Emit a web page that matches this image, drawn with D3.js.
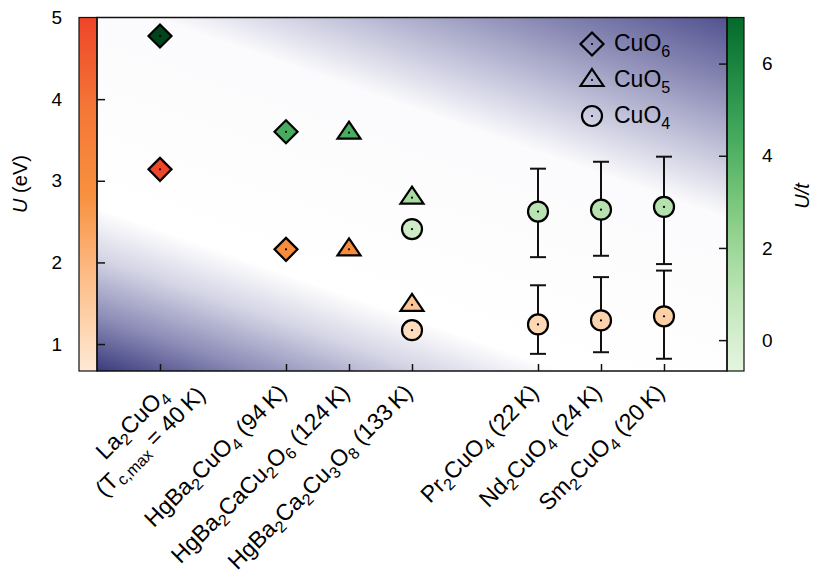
<!DOCTYPE html>
<html lang="en">
<head>
<meta charset="utf-8">
<title>U in cuprates</title>
<script src="https://d3js.org/d3.v7.min.js"></script>
<style>
body{margin:0;background:#fff;font-family:"Liberation Sans",Arial,Helvetica,sans-serif;}
</style>
</head>
<body>
<div id="chart"></div>
<script>
// compounds along the x axis, their slot on the axis and Tc (K)
var compounds = ["La2CuO4","HgBa2CuO4","HgBa2CaCu2O6","HgBa2Ca2Cu3O8","Pr2CuO4","Nd2CuO4","Sm2CuO4"]
var positions = [0,2,3,4,6,7,8]
var tcValues = [40,94,124,133,22,24,20]

// one entry per marker pair (U in eV on the left, U/t on the right)
var pointCompound = [0,1,2,3,3,4,5,6]
var pointShape = ["CuO6","CuO6","CuO5","CuO5","CuO4","CuO4","CuO4","CuO4"]
var uValues  = [3.14,2.16,2.16,1.48,1.17,1.24,1.29,1.34]
var uLow     = [null,null,null,null,null,0.88,0.90,0.82]
var uHigh    = [null,null,null,null,null,1.72,1.82,1.90]
var utValues = [6.60,4.52,4.50,3.09,2.41,2.79,2.83,2.89]
var utLow    = [null,null,null,null,null,1.80,1.83,1.65]
var utHigh   = [null,null,null,null,null,3.72,3.87,3.98]

var uTicks = [1,2,3,4,5]
var utTicks = [0,2,4,6]
var legendLabels = ["CuO6","CuO5","CuO4"]

var W = 817, H = 585
var plotL = 97, plotR = 727, plotT = 17.5, plotB = 371

var svg = d3.select("#chart").append("svg").attr("width",W).attr("height",H)
var defs = svg.append("defs")

var x = d3.scaleLinear().domain([-1,9]).range([plotL,plotR])
var yU = d3.scaleLinear().domain([0.67,5]).range([plotB,plotT])
var yUt = d3.scaleLinear().domain([-0.67,7.0]).range([plotB,plotT])

var orangeRamp = d3.piecewise(d3.interpolateRgb, ["#fee9d4","#fdc08c","#f8903f","#f47636","#ef4529"])
var uColor = d3.scaleSequential(orangeRamp).domain([1.0,3.14])
var utColor = d3.scaleSequential(d3.interpolateGreens).domain([1.2,6.6])

// background: white diagonal band fading to navy in two corners
var slope = 0.35
var fMin = -slope*(plotR-plotL), fMax = plotB-plotT, span = fMax-fMin
var k = span/(1+slope*slope)
var bg = defs.append("linearGradient").attr("id","bg").attr("gradientUnits","userSpaceOnUse")
    .attr("x1",plotR).attr("y1",plotT).attr("x2",plotR-slope*k).attr("y2",plotT+k)
var bgStops = [[-220.5,"#525290"],[-150,"#8a8ab5"],[-80,"#c7c7dd"],[-20,"#fbfbfd"],[190,"#ffffff"],[240,"#d4d4e5"],[300,"#8a8ab6"],[353.5,"#3a3a7c"]]
bgStops.forEach(function(s){
    bg.append("stop").attr("offset",(s[0]-fMin)/span).attr("stop-color",s[1])
})

function barGradient(id, ramp){
    var g = defs.append("linearGradient").attr("id",id).attr("x1",0).attr("y1",1).attr("x2",0).attr("y2",0)
    d3.range(0,1.0001,0.05).forEach(function(t){
        g.append("stop").attr("offset",t).attr("stop-color",ramp(t))
    })
}
barGradient("gOrange", orangeRamp)
barGradient("gGreen", function(t){ return d3.interpolateGreens(0.12+0.76*t) })

svg.append("rect").attr("x",plotL).attr("y",plotT).attr("width",plotR-plotL).attr("height",plotB-plotT)
    .attr("fill","url(#bg)")

// colour bars
svg.append("rect").attr("x",79).attr("y",plotT).attr("width",plotL-79).attr("height",plotB-plotT)
    .attr("fill","url(#gOrange)").attr("stroke","#111").attr("stroke-width",1.2)
svg.append("rect").attr("x",plotR).attr("y",plotT).attr("width",744-plotR).attr("height",plotB-plotT)
    .attr("fill","url(#gGreen)").attr("stroke","#111").attr("stroke-width",1.2)

// error bars
var capW = 8
function errorBar(g, cx, y0, y1){
    g.append("line").attr("x1",cx).attr("x2",cx).attr("y1",y0).attr("y2",y1)
    g.append("line").attr("x1",cx-capW).attr("x2",cx+capW).attr("y1",y0).attr("y2",y0)
    g.append("line").attr("x1",cx-capW).attr("x2",cx+capW).attr("y1",y1).attr("y2",y1)
}
var eb = svg.append("g").attr("stroke","#111").attr("stroke-width",2)
pointCompound.forEach(function(c,i){
    var cx = x(positions[c])
    if (uLow[i] != null) errorBar(eb, cx, yU(uLow[i]), yU(uHigh[i]))
    if (utLow[i] != null) errorBar(eb, cx, yUt(utLow[i]), yUt(utHigh[i]))
})

// markers
function shapePath(shape){
    if (shape == "CuO6") return "M0,-11.5L11.5,0L0,11.5L-11.5,0Z"
    if (shape == "CuO5") return "M0,-11L11.5,6L-11.5,6Z"
    return "M10,0A10,10 0 1,1 -10,0A10,10 0 1,1 10,0Z"
}
function marker(g, shape, cx, cy, fill){
    var m = g.append("g").attr("transform","translate("+cx+","+cy+")")
    m.append("path").attr("d",shapePath(shape)).attr("fill",fill)
        .attr("stroke","#000").attr("stroke-width",2.2).attr("stroke-linejoin","miter")
    m.append("circle").attr("r",1.1).attr("fill","#000")
}
var mk = svg.append("g")
pointCompound.forEach(function(c,i){
    var cx = x(positions[c])
    marker(mk, pointShape[i], cx, yUt(utValues[i]), utColor(utValues[i]))
    marker(mk, pointShape[i], cx, yU(uValues[i]), uColor(uValues[i]))
})

// frame
svg.append("rect").attr("x",plotL).attr("y",plotT).attr("width",plotR-plotL).attr("height",plotB-plotT)
    .attr("fill","none").attr("stroke","#111").attr("stroke-width",1.5)

// axes
function styleAxis(g){
    g.select(".domain").remove()
    g.selectAll("line").attr("stroke","#111").attr("stroke-width",1.5)
    g.selectAll("text").attr("font-size",19).attr("fill","#000")
        .attr("font-family","'Liberation Sans',Arial,Helvetica,sans-serif")
}
svg.append("g").attr("transform","translate(79,0)")
    .call(d3.axisLeft(yU).tickValues(uTicks).tickSize(0).tickPadding(17).tickFormat(d3.format("d")))
    .call(styleAxis)
svg.append("g").attr("transform","translate("+plotL+",0)")
    .call(d3.axisRight(yU).tickValues(uTicks.slice(0,4)).tickSize(8).tickFormat(""))
    .call(styleAxis)
svg.append("g").attr("transform","translate(744,0)")
    .call(d3.axisRight(yUt).tickValues(utTicks).tickSize(0).tickPadding(18).tickFormat(d3.format("d")))
    .call(styleAxis)
svg.append("g").attr("transform","translate("+plotR+",0)")
    .call(d3.axisLeft(yUt).tickValues(utTicks).tickSize(8).tickFormat(""))
    .call(styleAxis)
svg.append("g").attr("transform","translate(0,"+plotB+")")
    .call(d3.axisTop(x).tickValues(positions).tickSize(7).tickFormat(""))
    .call(styleAxis)

// axis titles
var tl = svg.append("text").attr("transform","translate(27,184) rotate(-90)")
    .attr("text-anchor","middle").attr("font-size",20)
tl.append("tspan").attr("font-style","italic").text("U")
tl.append("tspan").text(" (eV)")
var tr = svg.append("text").attr("transform","translate(809,196) rotate(-90)")
    .attr("text-anchor","middle").attr("font-size",20).attr("font-style","italic")
tr.text("U/t")

// chemical formula with digit subscripts, returns whether still shifted down
function addFormula(t, str, shift){
    var parts = str.match(/[A-Za-z]+|\d+/g)
    var down = false
    parts.forEach(function(p){
        var sub = /\d/.test(p)
        var s = t.append("tspan").text(p)
        if (sub && !down){ s.attr("font-size","0.7em").attr("dy",shift); down = true }
        else if (sub) s.attr("font-size","0.7em")
        else if (down){ s.attr("dy",-shift); down = false }
    })
    return down
}

// x labels
compounds.forEach(function(name,i){
    var g = svg.append("g").attr("transform","translate("+(x(positions[i])+2)+","+(plotB+23)+") rotate(-45)")
    if (i == 0){
        var l1 = g.append("text").attr("x",-42).attr("y",7).attr("text-anchor","middle").attr("font-size",23)
        addFormula(l1, name, 5)
        var l2 = g.append("text").attr("x",-42).attr("y",33).attr("text-anchor","middle").attr("font-size",23)
        l2.append("tspan").text("(T")
        l2.append("tspan").attr("font-size","0.7em").attr("dy",5).text("c,max")
        l2.append("tspan").attr("dy",-5).text(" = " + tcValues[i] + "\u2009K)")
    } else {
        var t = g.append("text").attr("text-anchor","end").attr("font-size",23)
        var down = addFormula(t, name, 5)
        t.append("tspan").attr("dy",down ? -5 : 0).text(" (" + tcValues[i] + "\u2009K)")
    }
})

// legend
legendLabels.forEach(function(lab,i){
    var ly = 44 + i*36
    marker(svg, lab, 592, ly, "none")
    var t = svg.append("text").attr("x",614).attr("y",ly+7).attr("font-size",23)
    addFormula(t, lab, 6)
})
</script>
</body>
</html>
